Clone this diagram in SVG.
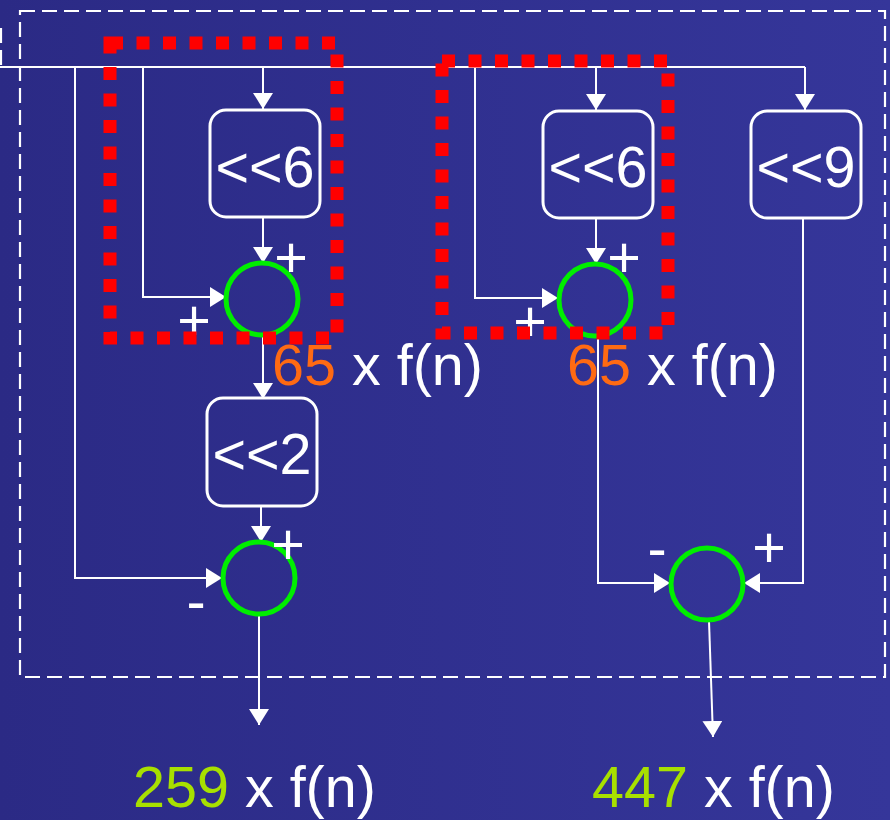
<svg xmlns="http://www.w3.org/2000/svg" width="890" height="820" viewBox="0 0 890 820">
  <defs>
    <linearGradient id="bg" x1="0" y1="0" x2="1" y2="0">
      <stop offset="0" stop-color="#2b2a85"/>
      <stop offset="1" stop-color="#35369a"/>
    </linearGradient>
    <marker id="arr" viewBox="0 0 16 20" refX="16" refY="10" markerWidth="16" markerHeight="20" markerUnits="userSpaceOnUse" orient="auto">
      <path d="M0,0 L16,10 L0,20 z" fill="#ffffff"/>
    </marker>
  </defs>
  <style>
    .wire { fill: none; stroke: #ffffff; stroke-width: 2; }
    .arrow { marker-end: url(#arr); }
    .box { fill: none; stroke: #ffffff; stroke-width: 3; }
    .sum { fill: none; stroke: #00ee00; stroke-width: 5; }
    .grp { fill: none; stroke: #ff0000; stroke-width: 13; stroke-dasharray: 13 13.5; }
    .outer { fill: none; stroke: #ffffff; stroke-width: 2.2; stroke-dasharray: 15 7; }
    .t { font-family: "Liberation Sans", Arial, sans-serif; font-size: 57.5px; fill: #ffffff; }
    .mid { text-anchor: middle; }
    .or { fill: #ff6a13; }
    .gr { fill: #a8e000; }
  </style>
  <rect x="0" y="0" width="890" height="820" fill="url(#bg)"/>
  <rect class="outer" x="20" y="11" width="865" height="666"/>
  <path class="outer" d="M1,28 V66"/>

  <g id="connectors">
    <path class="wire" d="M0,67 H805"/>
    <path class="wire arrow" d="M75,67 V578 H222"/>
    <path class="wire arrow" d="M143,67 V297 H226"/>
    <path class="wire arrow" d="M263,67 V109"/>
    <path class="wire arrow" d="M263,217 V263"/>
    <path class="wire arrow" d="M263,337 V399"/>
    <path class="wire arrow" d="M261,506 V542"/>
    <path class="wire arrow" d="M259,616 V725"/>
    <path class="wire arrow" d="M475,67 V298 H558"/>
    <path class="wire arrow" d="M596,67 V110"/>
    <path class="wire arrow" d="M596,218 V264"/>
    <path class="wire arrow" d="M598,338 V583 H670"/>
    <path class="wire arrow" d="M805,67 V110"/>
    <path class="wire arrow" d="M803,218 V583 H744"/>
    <path class="wire arrow" d="M709,621 L713,737"/>
  </g>

  <g id="shift6a">
    <rect class="box" x="210" y="110" width="110" height="107" rx="16"/>
    <text class="t mid" x="265" y="187">&lt;&lt;6</text>
  </g>
  <g id="shift6b">
    <rect class="box" x="543" y="111" width="110" height="107" rx="16"/>
    <text class="t mid" x="598" y="187">&lt;&lt;6</text>
  </g>
  <g id="shift9">
    <rect class="box" x="751" y="111" width="110" height="107" rx="16"/>
    <text class="t mid" x="806" y="187">&lt;&lt;9</text>
  </g>
  <g id="shift2">
    <rect class="box" x="207" y="398" width="110" height="108" rx="16"/>
    <text class="t mid" x="262" y="474">&lt;&lt;2</text>
  </g>

  <g id="sum1">
    <circle class="sum" cx="262" cy="299" r="36"/>
    <text class="t mid" x="291" y="277">+</text>
    <text class="t mid" x="194" y="340">+</text>
  </g>
  <g id="sum2">
    <circle class="sum" cx="595" cy="300" r="36"/>
    <text class="t mid" x="624" y="277">+</text>
    <text class="t mid" x="530" y="341">+</text>
  </g>
  <g id="sum3">
    <circle class="sum" cx="259" cy="578" r="36"/>
    <text class="t mid" x="288" y="564">+</text>
    <text class="t mid" x="196" y="621">-</text>
  </g>
  <g id="sum4">
    <circle class="sum" cx="707" cy="584" r="36"/>
    <text class="t mid" x="657" y="568">-</text>
    <text class="t mid" x="769" y="567">+</text>
  </g>

  <g id="group1">
    <rect class="grp" x="110" y="43" width="227" height="295"/>
  </g>
  <g id="group2">
    <rect class="grp" x="442" y="61" width="226" height="272"/>
  </g>

  <g id="labels">
    <text class="t" x="272" y="385"><tspan class="or">65</tspan> x f(n)</text>
    <text class="t" x="567" y="385"><tspan class="or">65</tspan> x f(n)</text>
    <text class="t" x="133" y="807"><tspan class="gr">259</tspan> x f(n)</text>
    <text class="t" x="592" y="807"><tspan class="gr">447</tspan> x f(n)</text>
  </g>
</svg>
